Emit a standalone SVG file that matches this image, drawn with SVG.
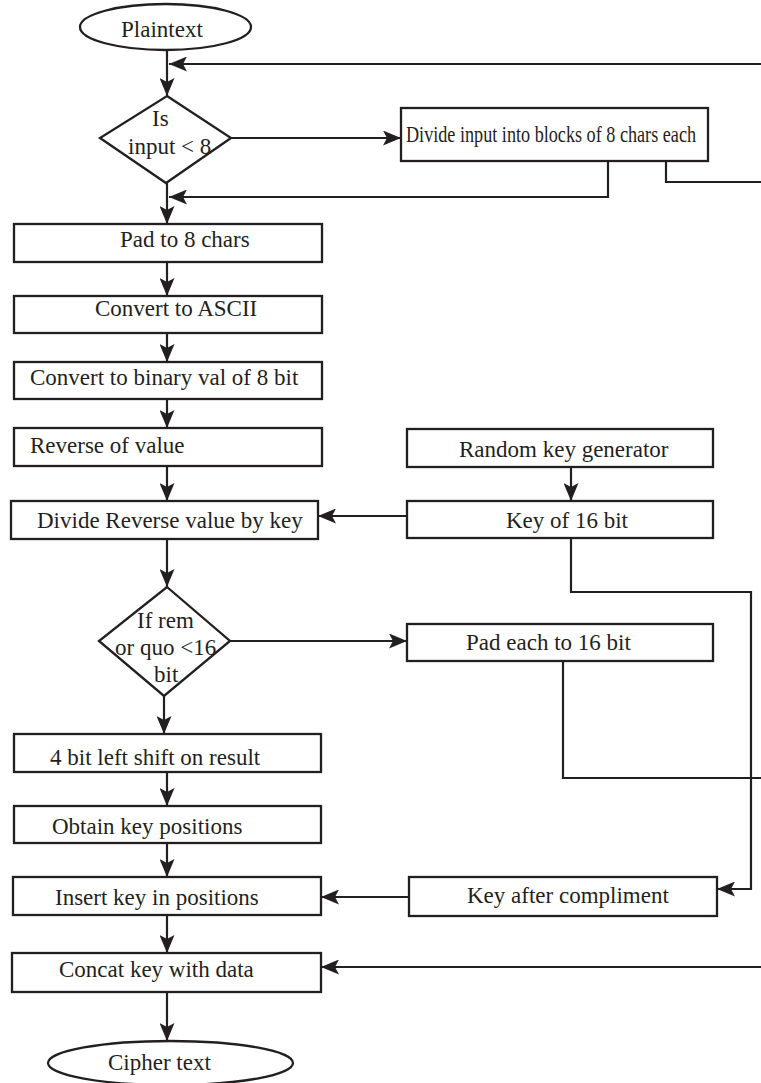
<svg xmlns="http://www.w3.org/2000/svg" width="761" height="1083" viewBox="0 0 761 1083">
<style>
.n{fill:#fff;stroke:#231f20;stroke-width:2.3}
.t{font-family:"Liberation Serif","Times New Roman",serif;font-size:23px;fill:#231f20}
.c{fill:none;stroke:#231f20;stroke-width:2.2}
</style>
<defs>
<marker id="ah" viewBox="0 0 18 15" refX="18" refY="7.5" markerWidth="18" markerHeight="15" markerUnits="userSpaceOnUse" orient="auto">
<path d="M0,0 L18,7.5 L0,15 L4,7.5 z" fill="#231f20"/>
</marker>
</defs>
<rect width="761" height="1083" fill="#fff"/>
<g id="connectors">
<path class="c" d="M167,50 V96" marker-end="url(#ah)"/>
<path class="c" d="M761,64 H169" marker-end="url(#ah)"/>
<path class="c" d="M231,138 H401" marker-end="url(#ah)"/>
<path class="c" d="M608,161 V197 H169" marker-end="url(#ah)"/>
<path class="c" d="M666,161 V182 H761"/>
<path class="c" d="M167,183 V224" marker-end="url(#ah)"/>
<path class="c" d="M167,262 V296" marker-end="url(#ah)"/>
<path class="c" d="M167,333 V362" marker-end="url(#ah)"/>
<path class="c" d="M167,399 V428" marker-end="url(#ah)"/>
<path class="c" d="M167,466 V501" marker-end="url(#ah)"/>
<path class="c" d="M571,467 V501" marker-end="url(#ah)"/>
<path class="c" d="M407,516 H318" marker-end="url(#ah)"/>
<path class="c" d="M167,539 V587" marker-end="url(#ah)"/>
<path class="c" d="M230,641 H407" marker-end="url(#ah)"/>
<path class="c" d="M571,538 V592 H751 V889 H717" marker-end="url(#ah)"/>
<path class="c" d="M563,661 V778 H761"/>
<path class="c" d="M164,696 V734" marker-end="url(#ah)"/>
<path class="c" d="M167,772 V806" marker-end="url(#ah)"/>
<path class="c" d="M167,843 V877" marker-end="url(#ah)"/>
<path class="c" d="M409,897 H321" marker-end="url(#ah)"/>
<path class="c" d="M167,915 V953" marker-end="url(#ah)"/>
<path class="c" d="M761,967 H321" marker-end="url(#ah)"/>
<path class="c" d="M167,992 V1041" marker-end="url(#ah)"/>
</g>
<g id="plaintext"><ellipse class="n" cx="165.5" cy="27" rx="85.5" ry="23"/><text class="t" x="121" y="37">Plaintext</text></g>
<g id="dec1"><path class="n" d="M167,96 L231,138 L166,183 L100,138 Z"/><text class="t" x="152" y="126">Is</text><text class="t" x="128" y="154">input &lt; 8</text></g>
<g id="divideInput"><rect class="n" x="401" y="108" width="307" height="53"/><text class="t" transform="translate(406,142) scale(0.79,1)">Divide input into blocks of 8 chars each</text></g>
<g id="pad8"><rect class="n" x="14" y="224" width="308" height="38"/><text class="t" x="120" y="247">Pad to 8 chars</text></g>
<g id="ascii"><rect class="n" x="14" y="296" width="308" height="37"/><text class="t" x="95" y="316">Convert to ASCII</text></g>
<g id="binary"><rect class="n" x="14" y="362" width="308" height="37"/><text class="t" x="30" y="385">Convert to binary val of 8 bit</text></g>
<g id="reverse"><rect class="n" x="14" y="428" width="308" height="38"/><text class="t" x="30" y="453">Reverse of value</text></g>
<g id="divideRev"><rect class="n" x="11" y="501" width="307" height="38"/><text class="t" x="37" y="528">Divide Reverse value by key</text></g>
<g id="randomKey"><rect class="n" x="407" y="429" width="306" height="38"/><text class="t" x="459" y="457">Random key generator</text></g>
<g id="key16"><rect class="n" x="407" y="501" width="306" height="37"/><text class="t" x="506" y="528">Key of 16 bit</text></g>
<g id="dec2"><path class="n" d="M167,587 L230,641 L164,696 L99,641 Z"/><text class="t" x="137" y="628">If rem</text><text class="t" x="115" y="655">or quo &lt;16</text><text class="t" x="154" y="682">bit</text></g>
<g id="padEach"><rect class="n" x="407" y="624" width="306" height="37"/><text class="t" x="466" y="650">Pad each to 16 bit</text></g>
<g id="shift"><rect class="n" x="14" y="734" width="307" height="38"/><text class="t" x="50" y="765">4 bit left shift on result</text></g>
<g id="obtain"><rect class="n" x="14" y="806" width="307" height="37"/><text class="t" x="52" y="834">Obtain key positions</text></g>
<g id="insert"><rect class="n" x="13" y="877" width="308" height="38"/><text class="t" x="55" y="905">Insert key in positions</text></g>
<g id="keyAfter"><rect class="n" x="409" y="877" width="308" height="39"/><text class="t" x="467" y="903">Key after compliment</text></g>
<g id="concat"><rect class="n" x="12" y="953" width="309" height="39"/><text class="t" x="59" y="977">Concat key with data</text></g>
<g id="cipher"><ellipse class="n" cx="170.5" cy="1063" rx="122.5" ry="22"/><text class="t" x="108" y="1070">Cipher text</text></g>
</svg>
